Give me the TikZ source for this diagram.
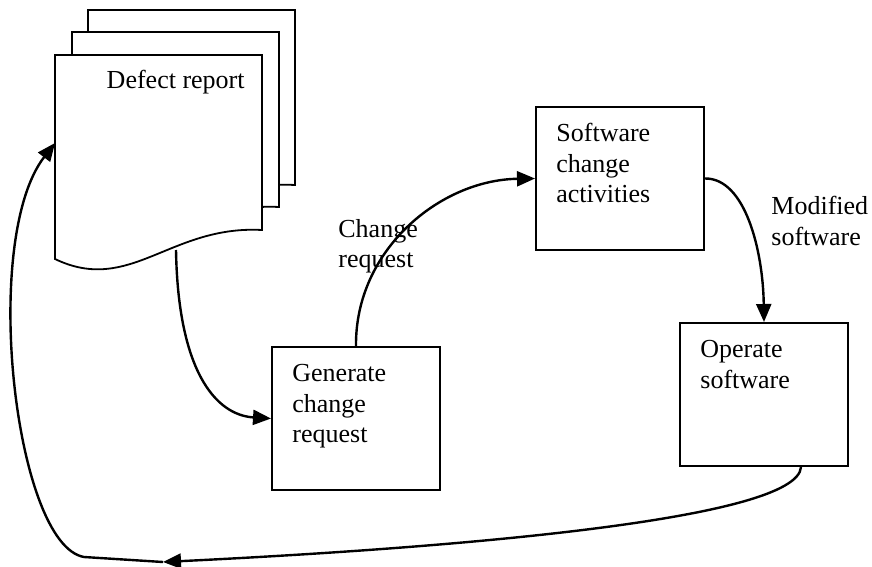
\documentclass[tikz,border=0pt]{standalone}
\usepackage{fontspec}
\setmainfont{Liberation Serif}
\usetikzlibrary{arrows.meta}
\begin{document}
\begin{tikzpicture}[x=0.5pt,y=-0.5pt,
  box/.style={draw,line width=1pt,fill=white,inner sep=0pt,anchor=north west,minimum width=84pt,minimum height=71.5pt},
  txt/.style={align=left,inner sep=0pt,font=\fontsize{13}{15.2}\selectfont},
  conn/.style={line width=1.2pt,-{Triangle[length=9pt,width=7.5pt]}},
  page/.style={draw,line width=0.9pt,fill=white,line join=miter}]
\useasboundingbox (0,0) rectangle (872,567);
% stacked document pages
\foreach \dx/\dy in {33/-45,17/-23,0/0}{
  \begin{scope}[shift={(\dx,\dy)}]
    \path[page] (55,55) -- (262,55) -- (262,230) .. controls (170,225) and (130,295) .. (55,259) -- cycle;
  \end{scope}
}
\node[txt,anchor=north east] (rep) at (245,70) {Defect report};
\coordinate (repout) at (176,250);
\coordinate (repin) at (55,143);
% process boxes
\node[box] (gen) at (271,346) {};
\node[txt,anchor=north west] (gentxt) at (292,364) {Generate\\change\\request};
\node[box] (sca) at (535,106) {};
\node[txt,anchor=north west] (scatxt) at (556,123) {Software\\change\\activities};
\node[box] (ops) at (679,322) {};
\node[txt,anchor=north west] (opstxt) at (700,340) {Operate\\software};
% labels
\node[txt,anchor=north west] (crlab) at (338,219) {Change\\request};
\node[txt,anchor=north west] (mslab) at (771,196) {Modified\\software};
% connectors
\draw[conn] (repout) .. controls (178,370) and (215,415) .. (gen.west);
\draw[conn] (gen.north) .. controls (355,250) and (440,180) .. (sca.west);
\draw[conn] (sca.east) .. controls (745,178) and (763,250) .. (ops.north);
\coordinate (back) at (163,562);
\coordinate (corner) at (84,557);
\draw[conn] ([xshift=18.5pt]ops.south) .. controls (798,520) and (450,548) .. (back);
\draw[conn] (back) -- (corner) .. controls (15,545) and (-20,240) .. (repin);
\end{tikzpicture}
\end{document}
